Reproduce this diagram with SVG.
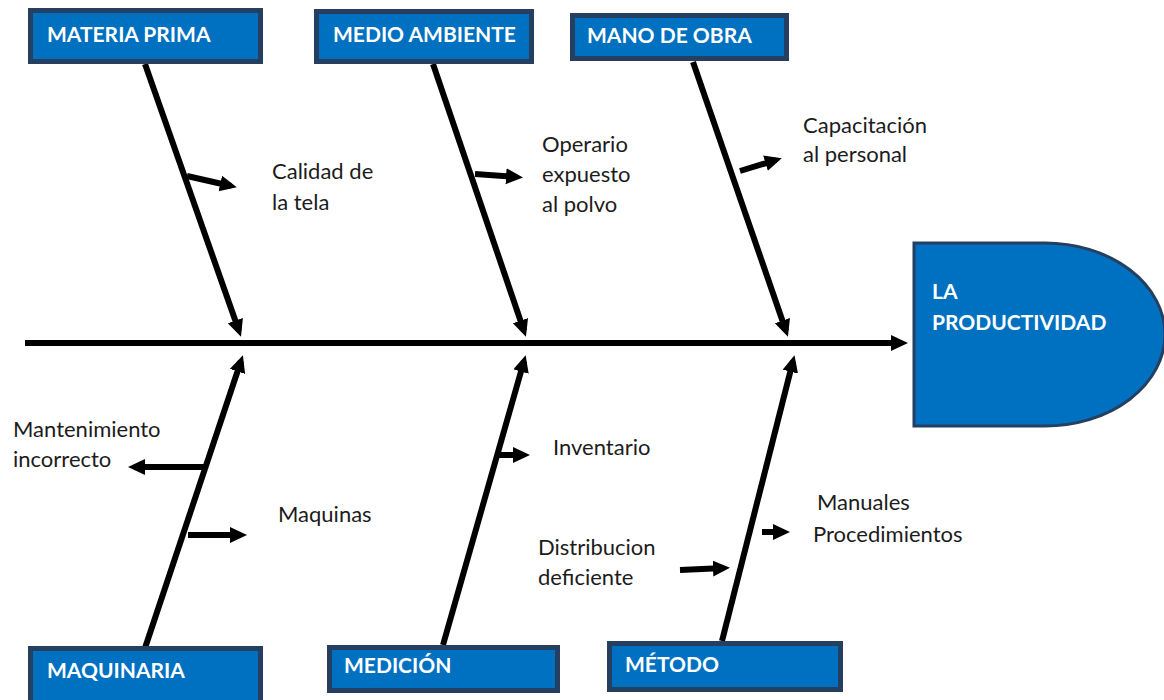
<svg xmlns="http://www.w3.org/2000/svg" width="1164" height="700" viewBox="0 0 1164 700">
<style>
.box{fill:#0070C0;stroke:#243F60;stroke-width:5}
.head{fill:#0070C0;stroke:#243F60;stroke-width:3}
.t{font-family:Lato,"Liberation Sans",sans-serif;font-weight:bold;font-size:21px;fill:#ffffff}
.l{font-family:Lato,"Liberation Sans",sans-serif;font-size:22px;fill:#1c1c1c}
.bone{stroke:#000;stroke-width:6;fill:none;marker-end:url(#ah)}
</style>
<defs>
<marker id="ah" markerUnits="userSpaceOnUse" markerWidth="18" markerHeight="18" refX="11" refY="8" orient="auto">
<path d="M0,0 L17,8 L0,16 Z" fill="#000"/>
</marker>
</defs>
<rect width="1164" height="700" fill="#fff"/>
<g id="connectors">
<line class="bone" x1="25" y1="343" x2="902" y2="343"/>
<line class="bone" x1="145" y1="64" x2="239" y2="331"/>
<line class="bone" x1="433" y1="64" x2="524" y2="331"/>
<line class="bone" x1="693" y1="62" x2="786" y2="331"/>
<line class="bone" x1="145" y1="648" x2="241" y2="361"/>
<line class="bone" x1="443" y1="645" x2="524" y2="361"/>
<line class="bone" x1="722" y1="641" x2="793" y2="361"/>
<line class="bone" x1="187" y1="176" x2="231" y2="186"/>
<line class="bone" x1="475" y1="174" x2="517" y2="177"/>
<line class="bone" x1="740" y1="171" x2="776" y2="160"/>
<line class="bone" x1="205" y1="467" x2="134" y2="467"/>
<line class="bone" x1="188" y1="535" x2="241" y2="535"/>
<line class="bone" x1="498" y1="455" x2="524" y2="455"/>
<line class="bone" x1="680" y1="570" x2="724" y2="568"/>
<line class="bone" x1="762" y1="532" x2="784" y2="532"/>
</g>
<g id="n-materia"><rect class="box" x="30.5" y="10.5" width="230" height="51"/><text class="t" x="47" y="42">MATERIA PRIMA</text></g>
<g id="n-medio"><rect class="box" x="316.5" y="11.5" width="215" height="50"/><text class="t" x="333" y="42">MEDIO AMBIENTE</text></g>
<g id="n-mano"><rect class="box" x="572.5" y="15.5" width="214" height="43"/><text class="t" x="587" y="43">MANO DE OBRA</text></g>
<g id="n-maquinaria"><rect class="box" x="30.5" y="648.5" width="230" height="60"/><text class="t" x="47" y="678">MAQUINARIA</text></g>
<g id="n-medicion"><rect class="box" x="329.5" y="647.5" width="228" height="43"/><text class="t" x="344" y="673">MEDICIÓN</text></g>
<g id="n-metodo"><rect class="box" x="609.5" y="643.5" width="231" height="46"/><text class="t" x="625" y="672">MÉTODO</text></g>
<g id="n-head"><path class="head" d="M914,243 H1045 A120,91.5 0 0 1 1045,426 H914 Z"/><text class="t" x="932" y="299">LA</text><text class="t" x="932" y="330">PRODUCTIVIDAD</text></g>
<g id="labels">
<text class="l" x="272" y="179">Calidad de</text>
<text class="l" x="272" y="210">la tela</text>
<text class="l" x="542" y="152">Operario</text>
<text class="l" x="542" y="182">expuesto</text>
<text class="l" x="542" y="212">al polvo</text>
<text class="l" x="803" y="133">Capacitación</text>
<text class="l" x="803" y="162">al personal</text>
<text class="l" x="13" y="437">Mantenimiento</text>
<text class="l" x="13" y="467">incorrecto</text>
<text class="l" x="278" y="522">Maquinas</text>
<text class="l" x="553" y="455">Inventario</text>
<text class="l" x="817" y="510">Manuales</text>
<text class="l" x="813" y="542">Procedimientos</text>
<text class="l" x="538" y="555">Distribucion</text>
<text class="l" x="538" y="585">deficiente</text>
</g>
</svg>
